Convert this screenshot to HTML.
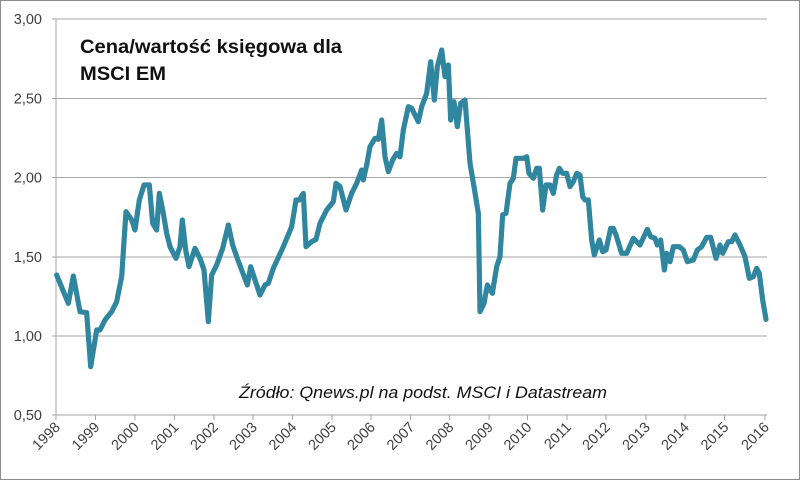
<!DOCTYPE html>
<html><head><meta charset="utf-8"><style>
html,body{margin:0;padding:0;background:#fff}
svg{display:block}
text{font-family:"Liberation Sans",sans-serif}
</style></head><body>
<svg width="800" height="480" viewBox="0 0 800 480" xmlns="http://www.w3.org/2000/svg">
<rect x="0.5" y="0.5" width="799" height="479" fill="#fff" stroke="#8c8c8c"/>
<g stroke="#a6a6a6" stroke-width="1">
<line x1="52" y1="19" x2="767" y2="19"/>
<line x1="52" y1="98.5" x2="767" y2="98.5"/>
<line x1="52" y1="177.5" x2="767" y2="177.5"/>
<line x1="52" y1="257" x2="767" y2="257"/>
<line x1="52" y1="336" x2="767" y2="336"/>
<line x1="52" y1="415" x2="767" y2="415"/>
<line x1="56" y1="19" x2="56" y2="415"/>
</g>
<g stroke="#a6a6a6" stroke-width="1">
<line x1="56" y1="415" x2="56" y2="420"/><line x1="95.5" y1="415" x2="95.5" y2="420"/><line x1="135" y1="415" x2="135" y2="420"/><line x1="174.5" y1="415" x2="174.5" y2="420"/><line x1="214" y1="415" x2="214" y2="420"/><line x1="253" y1="415" x2="253" y2="420"/><line x1="292.5" y1="415" x2="292.5" y2="420"/><line x1="332" y1="415" x2="332" y2="420"/><line x1="371" y1="415" x2="371" y2="420"/><line x1="410.5" y1="415" x2="410.5" y2="420"/><line x1="449.5" y1="415" x2="449.5" y2="420"/><line x1="489" y1="415" x2="489" y2="420"/><line x1="527.5" y1="415" x2="527.5" y2="420"/><line x1="567" y1="415" x2="567" y2="420"/><line x1="606" y1="415" x2="606" y2="420"/><line x1="646" y1="415" x2="646" y2="420"/><line x1="685" y1="415" x2="685" y2="420"/><line x1="724.5" y1="415" x2="724.5" y2="420"/><line x1="765" y1="415" x2="765" y2="420"/>
</g>
<g font-size="14.5" fill="#404040" text-anchor="end">
<text x="42" y="24">3,00</text><text x="42" y="103.5">2,50</text><text x="42" y="182.5">2,00</text><text x="42" y="262">1,50</text><text x="42" y="341">1,00</text><text x="42" y="420">0,50</text>
</g>
<g font-size="14.5" fill="#404040" text-anchor="end">
<text transform="translate(61,428) rotate(-45)">1998</text>
<text transform="translate(100.5,428) rotate(-45)">1999</text>
<text transform="translate(140,428) rotate(-45)">2000</text>
<text transform="translate(179.5,428) rotate(-45)">2001</text>
<text transform="translate(219,428) rotate(-45)">2002</text>
<text transform="translate(258,428) rotate(-45)">2003</text>
<text transform="translate(297.5,428) rotate(-45)">2004</text>
<text transform="translate(337,428) rotate(-45)">2005</text>
<text transform="translate(376,428) rotate(-45)">2006</text>
<text transform="translate(415.5,428) rotate(-45)">2007</text>
<text transform="translate(454.5,428) rotate(-45)">2008</text>
<text transform="translate(494,428) rotate(-45)">2009</text>
<text transform="translate(532.5,428) rotate(-45)">2010</text>
<text transform="translate(572,428) rotate(-45)">2011</text>
<text transform="translate(611,428) rotate(-45)">2012</text>
<text transform="translate(651,428) rotate(-45)">2013</text>
<text transform="translate(690,428) rotate(-45)">2014</text>
<text transform="translate(729.5,428) rotate(-45)">2015</text>
<text transform="translate(770,428) rotate(-45)">2016</text>
</g>
<g fill="none" stroke="#31869f" stroke-width="15.5" stroke-linejoin="round" stroke-linecap="round">
<polyline transform="scale(0.33333)" points="170,825 205,910 220,828 240,935 260,938 272,1100 290,990 300,990 315,960 335,935 350,905 365,830 378,635 395,660 405,690 418,600 432,555 448,555 458,670 470,690 478,580 490,640 500,700 510,740 528,775 540,740 547,660 557,750 567,800 585,745 600,775 612,810 625,965 635,825 650,795 668,745 685,675 698,735 710,770 725,810 742,855 752,800 765,840 780,885 795,855 805,850 820,805 850,740 875,680 888,600 898,600 910,580 918,740 935,725 948,718 960,670 980,630 1000,605 1008,550 1020,560 1038,630 1055,580 1070,550 1085,510 1090,540 1100,495 1110,440 1125,415 1135,418 1145,360 1155,470 1165,515 1178,480 1190,460 1200,470"/>
<polyline transform="translate(400,0) scale(0.33333)" points="0,470 10,390 25,320 35,325 55,365 65,320 80,280 92,185 103,300 112,200 125,150 135,230 145,195 152,360 162,305 172,380 182,310 195,300 210,490 222,560 235,640 240,935 252,910 262,855 277,880 290,800 300,770 308,645 318,640 330,550 340,535 348,475 372,475 380,470 387,520 400,535 410,505 418,505 428,630 438,555 450,555 460,580 470,525 478,505 488,520 500,520 510,560 520,545 530,520 540,525 548,590 555,600 565,600 575,720 583,765 598,720 608,755 618,750 632,685 640,685 648,705 665,760 680,760 700,715 720,735 742,688 752,710 765,715 772,735 782,720 793,810 800,760 810,785 820,740 838,740 850,750 862,785 880,780 892,750 905,740 920,712 932,712 948,775 960,735 968,760 985,725 995,725 1005,705 1020,735 1035,770 1048,835 1060,830 1070,805 1078,820 1088,900 1098,958"/>
</g>
<text x="80" y="53" font-size="19" font-weight="bold" fill="#111" textLength="262" lengthAdjust="spacingAndGlyphs">Cena/wartość księgowa dla</text>
<text x="80" y="80" font-size="19" font-weight="bold" fill="#111" textLength="86" lengthAdjust="spacingAndGlyphs">MSCI EM</text>
<text x="239" y="398" font-size="17" font-style="italic" fill="#111" textLength="368" lengthAdjust="spacingAndGlyphs">Źródło: Qnews.pl na podst. MSCI i Datastream</text>
</svg>
</body></html>
